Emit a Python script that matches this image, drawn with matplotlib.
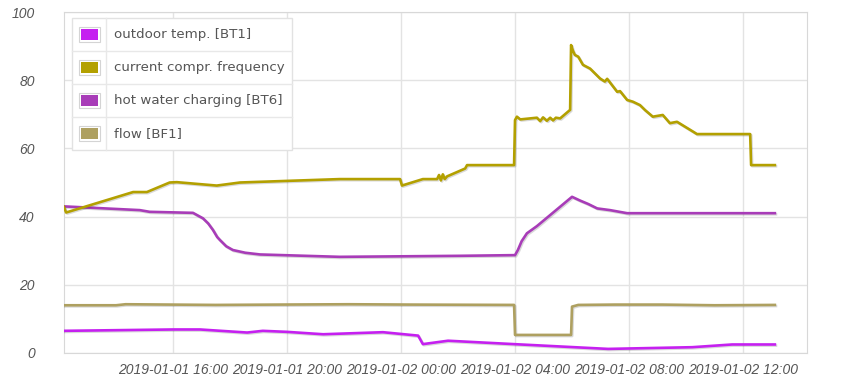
import matplotlib
matplotlib.use("Agg")
import matplotlib.pyplot as plt
import matplotlib.dates as mdates
import matplotlib.patheffects as pe
from matplotlib.patches import Rectangle
from matplotlib.lines import Line2D
import pandas as pd

# --- data ---
freq_t = ["2019-01-01 12:10", "2019-01-01 12:15", "2019-01-01 14:36", "2019-01-01 15:05",
          "2019-01-01 15:53", "2019-01-01 16:08", "2019-01-01 17:32", "2019-01-01 18:21",
          "2019-01-01 21:51", "2019-01-01 23:58", "2019-01-02 00:02", "2019-01-02 00:46",
          "2019-01-02 01:16", "2019-01-02 01:20", "2019-01-02 01:24", "2019-01-02 01:28",
          "2019-01-02 01:32", "2019-01-02 01:37", "2019-01-02 02:15", "2019-01-02 02:19",
          "2019-01-02 03:58", "2019-01-02 04:00", "2019-01-02 04:04", "2019-01-02 04:11",
          "2019-01-02 04:46", "2019-01-02 04:53", "2019-01-02 04:59", "2019-01-02 05:07",
          "2019-01-02 05:14", "2019-01-02 05:20", "2019-01-02 05:26", "2019-01-02 05:35",
          "2019-01-02 05:56", "2019-01-02 05:58", "2019-01-02 06:02", "2019-01-02 06:06",
          "2019-01-02 06:13", "2019-01-02 06:23", "2019-01-02 06:38", "2019-01-02 06:59",
          "2019-01-02 07:09", "2019-01-02 07:14", "2019-01-02 07:35", "2019-01-02 07:41",
          "2019-01-02 07:56", "2019-01-02 08:08", "2019-01-02 08:23", "2019-01-02 08:34",
          "2019-01-02 08:50", "2019-01-02 09:11", "2019-01-02 09:26", "2019-01-02 09:41",
          "2019-01-02 10:15", "2019-01-02 10:23", "2019-01-02 12:15", "2019-01-02 12:17",
          "2019-01-02 13:07"]
freq_v = [42.9, 41.2, 47.2, 47.2,
          50.0, 50.1, 49.1, 50.0,
          51.0, 51.0, 49.1, 51.0,
          51.0, 52.2, 50.6, 52.4,
          51.0, 51.8, 54.1, 55.1,
          55.1, 68.3, 69.3, 68.5,
          69.0, 68.0, 69.1, 68.1,
          69.0, 68.2, 69.0, 68.8,
          71.3, 90.3, 88.6, 87.4,
          86.9, 84.5, 83.4, 80.5,
          79.6, 80.4, 76.6, 76.8,
          74.2, 73.7, 72.7, 71.2,
          69.3, 69.8, 67.4, 67.8,
          64.9, 64.2, 64.2, 55.1,
          55.1]

bt6_t = ["2019-01-01 12:10", "2019-01-01 14:50", "2019-01-01 15:11", "2019-01-01 16:42",
         "2019-01-01 17:03", "2019-01-01 17:14", "2019-01-01 17:24", "2019-01-01 17:33",
         "2019-01-01 17:39", "2019-01-01 17:52", "2019-01-01 18:06", "2019-01-01 18:32",
         "2019-01-01 19:03", "2019-01-01 21:51", "2019-01-02 02:04", "2019-01-02 04:00",
         "2019-01-02 04:06", "2019-01-02 04:14", "2019-01-02 04:25", "2019-01-02 04:46",
         "2019-01-02 06:00", "2019-01-02 06:17", "2019-01-02 06:34", "2019-01-02 06:53",
         "2019-01-02 07:20", "2019-01-02 07:56", "2019-01-02 13:07"]
bt6_v = [43.0, 41.9, 41.4, 41.1,
         39.5, 38.0, 36.1, 34.0,
         33.1, 31.3, 30.2, 29.4,
         28.9, 28.2, 28.5, 28.7,
         30.2, 32.8, 35.1, 37.2,
         45.8, 44.7, 43.7, 42.4,
         41.9, 41.0, 41.0]

bt1_t = ["2019-01-01 12:10", "2019-01-01 16:00", "2019-01-01 16:57", "2019-01-01 18:36",
         "2019-01-01 19:09", "2019-01-01 20:00", "2019-01-01 21:16", "2019-01-01 23:22",
         "2019-01-02 00:36", "2019-01-02 00:46", "2019-01-02 01:39", "2019-01-02 03:58",
         "2019-01-02 07:16", "2019-01-02 10:13", "2019-01-02 11:37", "2019-01-02 13:07"]
bt1_v = [6.5, 6.9, 6.9, 6.0,
         6.5, 6.2, 5.5, 6.1,
         5.1, 2.6, 3.6, 2.6,
         1.2, 1.7, 2.5, 2.5]

bf1_t = ["2019-01-01 12:10", "2019-01-01 14:00", "2019-01-01 14:20", "2019-01-01 17:30",
         "2019-01-01 19:40", "2019-01-01 22:10", "2019-01-02 00:20", "2019-01-02 03:58",
         "2019-01-02 04:00", "2019-01-02 05:58", "2019-01-02 06:00", "2019-01-02 06:13",
         "2019-01-02 07:30", "2019-01-02 09:10", "2019-01-02 11:00", "2019-01-02 13:07"]
bf1_v = [14.0, 14.0, 14.3, 14.1,
         14.2, 14.3, 14.2, 14.1,
         5.3, 5.3, 13.6, 14.1,
         14.2, 14.2, 14.0, 14.1]

labels = ["outdoor temp. [BT1]", "current compr. frequency",
          "hot water charging [BT6]", "flow [BF1]"]
colors = ["#c520f0", "#b3a000", "#a83cb8", "#aea060"]
y_ticks = [0, 20, 40, 60, 80, 100]
x_ticks = ["2019-01-01 16:00", "2019-01-01 20:00", "2019-01-02 00:00",
           "2019-01-02 04:00", "2019-01-02 08:00", "2019-01-02 12:00"]

W, H = 850, 375
fig = plt.figure(figsize=(W / 100, H / 100), dpi=100)
ax = fig.add_axes([64 / W, 1 - 353 / H, (807 - 64) / W, (353 - 12) / H])

shadow = [pe.SimpleLineShadow(offset=(0.8, -0.8), alpha=0.15, shadow_color="k"), pe.Normal()]
series = [(bf1_t, bf1_v, colors[3]), (bt6_t, bt6_v, colors[2]),
          (freq_t, freq_v, colors[1]), (bt1_t, bt1_v, colors[0])]
for t, v, c in series:
    ax.plot(pd.to_datetime(t), v, color=c, lw=1.9, solid_joinstyle="round",
            path_effects=shadow, zorder=3)

ax.set_xlim(pd.Timestamp("2019-01-01 12:10:30"), pd.Timestamp("2019-01-02 14:14:40"))
ax.set_ylim(0, 100)
ax.set_yticks(y_ticks)
ax.set_xticks(pd.to_datetime(x_ticks))
ax.xaxis.set_major_formatter(mdates.DateFormatter("%Y-%m-%d %H:%M"))
ax.grid(True, color="#e3e3e3", lw=1)
ax.set_axisbelow(True)
for s in ax.spines.values():
    s.set_color("#d8d8d8")
ax.tick_params(length=0, colors="#555555")
ax.tick_params(axis="y", pad=21)
ax.tick_params(axis="x", pad=7)
for lab in ax.get_xticklabels() + ax.get_yticklabels():
    lab.set_fontfamily("Liberation Sans")
    lab.set_fontstyle("italic")
    lab.set_fontsize(10)

# legend box drawn as a little table (pixel positions, top-left origin)
def fx(x):
    return x / W

def fy(y):
    return 1 - y / H

lx0, lx1, ly0, row_h = 72, 292, 18, 33
fig.patches.append(Rectangle((fx(lx0), fy(ly0 + 4 * row_h)), fx(lx1 - lx0), (4 * row_h) / H,
                             transform=fig.transFigure, facecolor="white", edgecolor="#e2e2e2",
                             lw=1, zorder=5))
fig.lines.append(Line2D([fx(106), fx(106)], [fy(ly0), fy(ly0 + 4 * row_h)],
                        transform=fig.transFigure, color="#e8e8e8", lw=1, zorder=6))
for i, (lab, c) in enumerate(zip(labels, colors)):
    top = ly0 + i * row_h
    if i > 0:
        fig.lines.append(Line2D([fx(lx0), fx(lx1)], [fy(top), fy(top)],
                                transform=fig.transFigure, color="#e8e8e8", lw=1, zorder=6))
    fig.patches.append(Rectangle((fx(79), fy(top + 24)), 21 / W, 15 / H,
                                 transform=fig.transFigure, facecolor="white",
                                 edgecolor="#d4d4d4", lw=0.8, zorder=6))
    fig.patches.append(Rectangle((fx(81), fy(top + 22)), 17 / W, 11 / H,
                                 transform=fig.transFigure, facecolor=c,
                                 edgecolor="none", zorder=7))
    fig.text(fx(114), fy(top + row_h / 2), lab, fontsize=9.6, color="#555555",
             va="center", ha="left", family="DejaVu Sans", zorder=7)

fig.savefig("out.png", dpi=100)
